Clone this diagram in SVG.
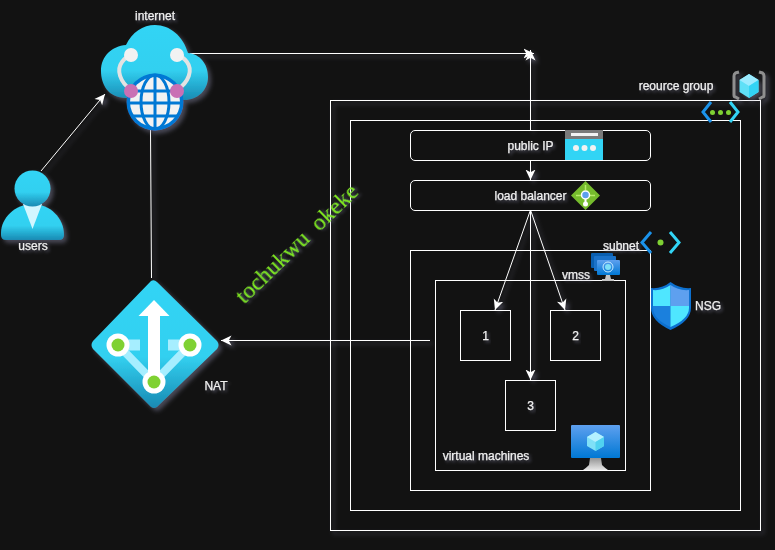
<svg xmlns="http://www.w3.org/2000/svg" width="775" height="550" viewBox="0 0 775 550">
<style>
.box{fill:none;stroke:#fff;stroke-width:1}
.edge{fill:none;stroke:#fff;stroke-width:1}
text{font-family:"Liberation Sans",Arial,sans-serif;font-size:12px;fill:#f0f0f0;stroke:#f0f0f0;stroke-width:0.25;text-anchor:middle;filter:url(#ts)}
</style>
<defs>
<filter id="sh" x="-20%" y="-20%" width="150%" height="150%"><feDropShadow dx="3" dy="3" stdDeviation="2" flood-color="#8a8aa8" flood-opacity="0.45"/></filter>
<filter id="ts" x="-20%" y="-50%" width="140%" height="200%"><feDropShadow dx="2" dy="2" stdDeviation="1.500" flood-color="#8a8aa8" flood-opacity="0.45"/></filter>
<marker id="a" viewBox="0 0 11 11" refX="10.500" refY="5.500" markerWidth="11" markerHeight="11" orient="auto" markerUnits="userSpaceOnUse"><path d="M0 0.500 L10.500 5.500 L0 10.500 L2.800 5.500 Z" fill="#fff"/></marker>
<linearGradient id="cy" x1="0" y1="0" x2="0" y2="1"><stop offset="0" stop-color="#32d4f5"/><stop offset=".6" stop-color="#32d0f0"/><stop offset="1" stop-color="#198ab3"/></linearGradient>
<linearGradient id="bl" x1="0" y1="0" x2="0" y2="1"><stop offset="0" stop-color="#5ea0ef"/><stop offset="1" stop-color="#0078d4"/></linearGradient>
<linearGradient id="st" x1="0" y1="0" x2="0" y2="1"><stop offset="0" stop-color="#949494"/><stop offset="1" stop-color="#e6e6e6"/></linearGradient>
</defs>
<rect width="775" height="550" fill="#121212"/>

<g id="connectors" filter="url(#sh)">
<path class="edge" d="M41 171 L105 94" marker-end="url(#a)"/>
<path class="edge" d="M190 53.500 L534 53.500" marker-end="url(#a)"/>
<path class="edge" d="M530.500 130 L530.500 50" marker-end="url(#a)"/>
<path class="edge" d="M530.500 160 L530.500 180" marker-end="url(#a)"/>
<path class="edge" d="M530.500 210 L495 310" marker-end="url(#a)"/>
<path class="edge" d="M530.500 210 L565 310" marker-end="url(#a)"/>
<path class="edge" d="M530.500 210 L530.500 380" marker-end="url(#a)"/>
<path class="edge" d="M430 340.500 L221 340.500" marker-end="url(#a)"/>
<path class="edge" d="M150.500 130 L151.500 278"/>
</g>

<g id="resource-group">
<rect class="box" x="330.500" y="100.500" width="430" height="430" filter="url(#sh)"/>
<text x="676" y="90">reource group</text>
<g filter="url(#sh)">
<path d="M739 72 L735.500 73 Q734 74 734 76 V95 Q734 97 735.500 97 L739 99 M759 72 L762.500 73 Q764 74 764 76 V95 Q764 97 762.500 97 L759 99" fill="none" stroke="#8f8f8f" stroke-width="3"/>
<path d="M749 74 L739.500 80 V92 L749 98 L758.500 92 V80 Z" fill="#5fe0f7"/>
<path d="M749 74 L739.500 80 L749 86 L758.500 80 Z" fill="#9cebff"/>
<path d="M749 86 L758.500 80 V92 L749 98 Z" fill="#32d4f5"/>
</g>
</g>

<g id="vnet">
<rect class="box" x="350.500" y="120.500" width="390" height="390"/>
<path d="M711 102 L703 112 L711 122" fill="none" stroke="#1b93eb" stroke-width="3"/>
<path d="M730 102 L738 112 L730 122" fill="none" stroke="#32d4f5" stroke-width="3"/>
<circle cx="712.500" cy="112.500" r="2.500" fill="#7fd133"/><circle cx="720.500" cy="112.500" r="2.500" fill="#7fd133"/><circle cx="728.500" cy="112.500" r="2.500" fill="#7fd133"/>
</g>

<g id="public-ip">
<rect class="box" x="410.500" y="130.500" width="240" height="30" rx="4.500"/>
<text x="530.500" y="150">public IP</text>
<rect x="565" y="130" width="38" height="30" fill="#32d4f5"/>
<rect x="565" y="130" width="38" height="9" fill="#7a7a7a"/>
<rect x="571" y="133" width="27" height="3" fill="#f2f2f2"/>
<circle cx="576" cy="148" r="3" fill="#f2f2f2"/><circle cx="584.500" cy="148" r="3" fill="#f2f2f2"/><circle cx="593" cy="148" r="3" fill="#f2f2f2"/>
</g>

<g id="load-balancer">
<rect class="box" x="410.500" y="180.500" width="240" height="30" rx="4.500"/>
<text x="530.500" y="200">load balancer</text>
<path d="M585.500 181 L600 195.500 L585.500 210 L571 195.500 Z" fill="#76bc2d"/>
<path d="M585.500 185 V190 M576 195.500 H581 M590 195.500 H595" stroke="#b6ec6a" stroke-width="1.500"/>
<path d="M585.500 195 V204" stroke="#fff" stroke-width="2"/>
<circle cx="585.500" cy="195" r="4" fill="#5ea0ef" stroke="#fff" stroke-width="1.500"/>
<circle cx="585.500" cy="204" r="2.500" fill="#fff"/>
</g>

<g id="subnet">
<rect class="box" x="410.500" y="250.500" width="240" height="240"/>
<text x="621" y="250">subnet</text>
<path d="M651 232 L642 242.500 L651 253" fill="none" stroke="#1b93eb" stroke-width="3"/>
<path d="M670 232 L679 242.500 L670 253" fill="none" stroke="#32d4f5" stroke-width="3"/>
<circle cx="660.500" cy="242.500" r="3" fill="#7fd133"/>
</g>

<g id="vmss">
<rect class="box" x="435.500" y="280.500" width="190" height="190"/>
<text x="576" y="279">vmss</text>
<rect x="591" y="253" width="22" height="15" rx="1" fill="#0a5fb0"/>
<rect x="594" y="256" width="22" height="15" rx="1" fill="#1b72c9"/>
<rect x="597" y="260" width="23" height="15" rx="1" fill="url(#bl)"/>
<circle cx="608" cy="267" r="5" fill="none" stroke="#c9ecff" stroke-width="1"/>
<circle cx="608" cy="267" r="3" fill="#7fe0f7"/>
<path d="M606 275 H610 L611 279 H614 V281 H602 V279 H605 Z" fill="#c4c4c4"/>
</g>

<g id="vm-1"><rect class="box" x="460.500" y="310.500" width="50" height="50"/><text x="485.500" y="340">1</text></g>
<g id="vm-2"><rect class="box" x="550.500" y="310.500" width="50" height="50"/><text x="575.500" y="340">2</text></g>
<g id="vm-3"><rect class="box" x="505.500" y="380.500" width="50" height="50"/><text x="530.500" y="410">3</text></g>

<g id="virtual-machines">
<text x="486" y="460">virtual machines</text>
<rect x="571" y="425" width="49" height="33" rx="1" fill="url(#bl)"/>
<path d="M590 458 H601 L602 465 Q605 468 608 470 H583 Q586 468 589 465 Z" fill="url(#st)"/>
<path d="M595.500 432 L604 437 V446 L595.500 451 L587 446 V437 Z" fill="#7fe0f7"/>
<path d="M595.500 432 L604 437 L595.500 442 L587 437 Z" fill="#b3f0ff"/>
<path d="M595.500 442 L604 437 V446 L595.500 451 Z" fill="#50d2f0"/>
</g>

<g id="nsg">
<path d="M670.500 282 Q680 289 691 288 V308 Q691 321 670.500 330 Q651 321 651 308 V288 Q662 289 670.500 282 Z" fill="#0d70cf"/>
<path d="M670.500 285 Q662 291 653 290 V306 H670.500 Z" fill="#4fe6ff"/>
<path d="M670.500 285 Q679 291 689 290 V306 H670.500 Z" fill="#5ea0ef"/>
<path d="M653 306 H670.500 V327 Q653 319 653 308 Z" fill="#1b80dd"/>
<path d="M689 306 H670.500 V327 Q689 319 689 308 Z" fill="#4fe6ff"/>
<text x="708" y="310">NSG</text>
</g>

<g id="internet">
<text x="155" y="20">internet</text>
<g filter="url(#sh)">
<path d="M126 98 C108 98 101 84 101 71 C101 56 112 46 126 45 C132 32 143 25 155 25 C170 25 183 36 188 53 C200 54 208 64 208 77 C208 90 198 100 184 100 Z" fill="url(#cy)"/>
<path d="M131 90 C120 82 116 70 122 62 C125 58 128 56 131 55 M177 90 C189 82 193 70 187 62 C184 58 181 56 177 55" fill="none" stroke="#e3e3e3" stroke-width="4"/>
<circle cx="131" cy="55" r="7" fill="#f2f2f2"/><circle cx="177" cy="55" r="7" fill="#f2f2f2"/>
<circle cx="155" cy="102" r="28.500" fill="#0078d4"/>
<circle cx="155" cy="102" r="25" fill="#f2f2f2"/>
<ellipse cx="155" cy="102" rx="14" ry="27" fill="none" stroke="#0078d4" stroke-width="3"/>
<path d="M155 75 V130 M129 91 H181 M128 103 H182 M131 116 H179" stroke="#0078d4" stroke-width="3" fill="none"/>
<circle cx="131" cy="91" r="7" fill="#c96fb4"/><circle cx="177" cy="91" r="7" fill="#c96fb4"/>
</g>
</g>

<g id="users">
<g filter="url(#sh)">
<path d="M1 233 C1 218 15 204 32.500 204 C50 204 64 218 64 235 Q64 240 59 240 H6 Q1 240 1 235 Z" fill="url(#cy)"/>
<path d="M23 204 H42 L32.500 229 Z" fill="#d2f6ff"/>
<circle cx="32.500" cy="188.500" r="18" fill="url(#cy)"/>
</g>
<text x="33" y="250">users</text>
</g>

<g id="nat">
<g filter="url(#sh)">
<path d="M151 281 Q154 279 157 282 L217 341 Q220 345 217 349 L157 407 Q154 409 151 407 L93 349 Q90 345 93 341 Z" fill="url(#cy)"/>
<path d="M118 345 L154 382 L190 345" fill="none" stroke="#a6eeff" stroke-width="8"/>
<path d="M118 345 H140 M168 345 H190" stroke="#a6eeff" stroke-width="11" fill="none"/>
<path d="M154 300 L169.500 316 H138.500 Z" fill="#fff"/>
<rect x="148" y="315" width="12" height="65" fill="#fff"/>
<circle cx="118" cy="345" r="11.500" fill="#fff"/><circle cx="118" cy="345" r="6.500" fill="#7fd133"/>
<circle cx="190" cy="345" r="11.500" fill="#fff"/><circle cx="190" cy="345" r="6.500" fill="#7fd133"/>
<circle cx="154" cy="382" r="11.500" fill="#fff"/><circle cx="154" cy="382" r="6.500" fill="#7fd133"/>
</g>
<text x="216" y="390">NAT</text>
</g>

<g id="credit">
<text x="302" y="249" transform="rotate(-44 302 249)" style="font-family:'Liberation Serif','Times New Roman',serif;font-size:23.500px;fill:#80ea1c;stroke:#80ea1c;stroke-width:0.1;white-space:pre" xml:space="preserve">tochukwu  okeke</text>
</g>
</svg>
